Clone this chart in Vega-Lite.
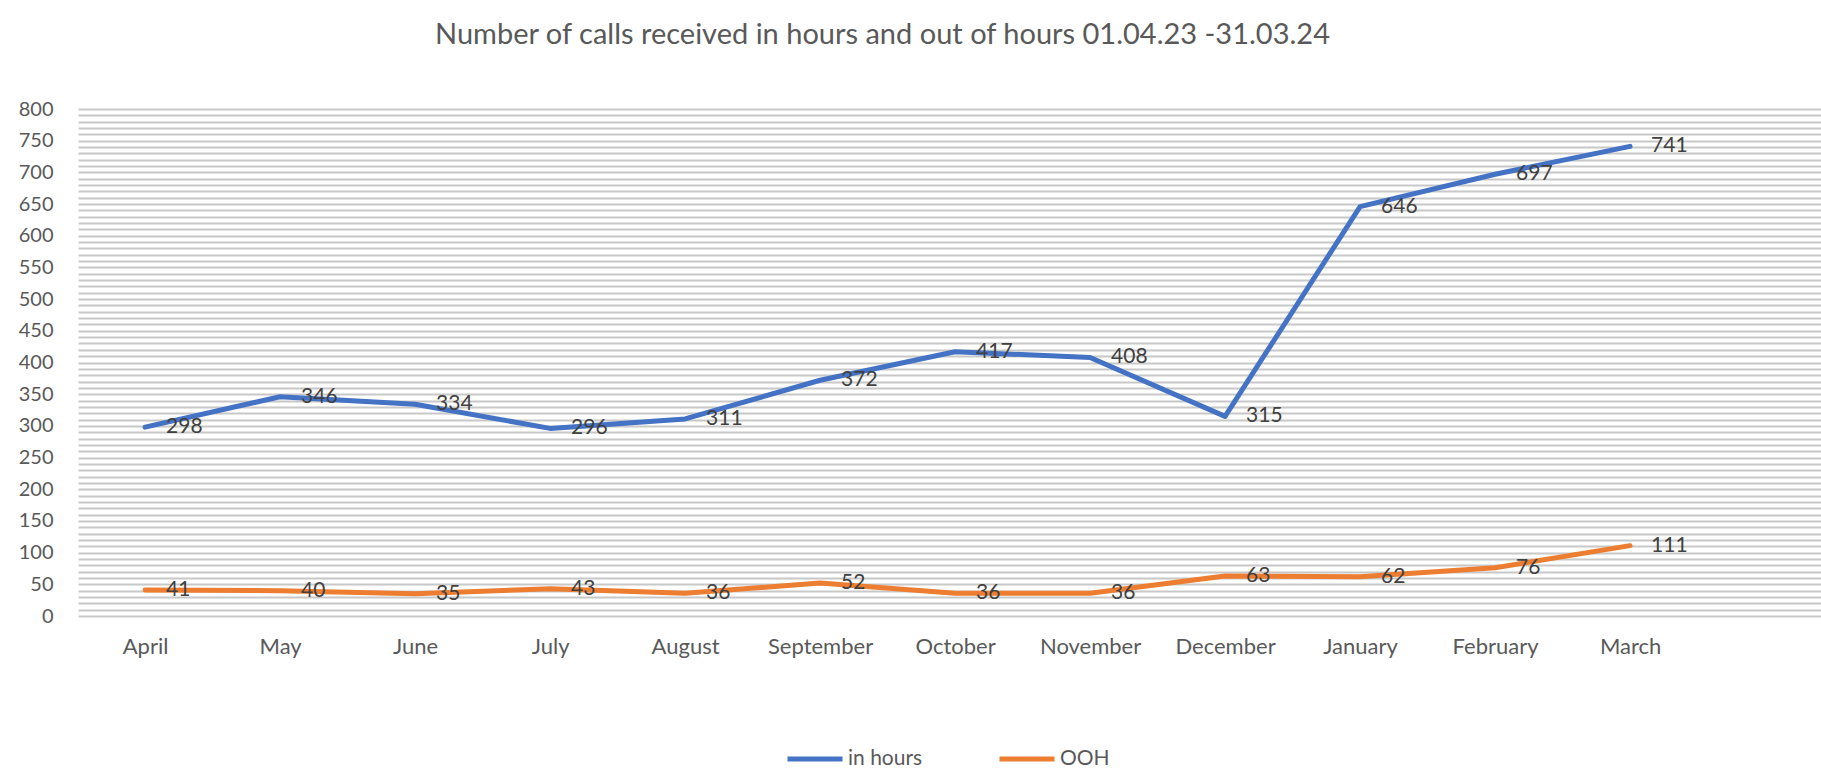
{
  "$schema": "https://vega.github.io/schema/vega-lite/v6.json",
  "autosize": {"type": "none"},
  "width": 1743,
  "height": 507,
  "padding": {"left": 78, "top": 109, "right": 0, "bottom": 152},
  "background": "white",
  "title": {
    "text": "Number of calls received in hours and out of hours 01.04.23 -31.03.24",
    "font": "Lato",
    "fontSize": 29,
    "fontWeight": "normal",
    "color": "#595959",
    "anchor": "middle",
    "dx": -67,
    "offset": 49
  },
  "config": {
    "view": {"stroke": null},
    "font": "Lato"
  },
  "data": {
    "values": [
      {"month": "April", "series": "in hours", "calls": 298},
      {"month": "May", "series": "in hours", "calls": 346},
      {"month": "June", "series": "in hours", "calls": 334},
      {"month": "July", "series": "in hours", "calls": 296},
      {"month": "August", "series": "in hours", "calls": 311},
      {"month": "September", "series": "in hours", "calls": 372},
      {"month": "October", "series": "in hours", "calls": 417},
      {"month": "November", "series": "in hours", "calls": 408},
      {"month": "December", "series": "in hours", "calls": 315},
      {"month": "January", "series": "in hours", "calls": 646},
      {"month": "February", "series": "in hours", "calls": 697},
      {"month": "March", "series": "in hours", "calls": 741},
      {"month": "April", "series": "OOH", "calls": 41},
      {"month": "May", "series": "OOH", "calls": 40},
      {"month": "June", "series": "OOH", "calls": 35},
      {"month": "July", "series": "OOH", "calls": 43},
      {"month": "August", "series": "OOH", "calls": 36},
      {"month": "September", "series": "OOH", "calls": 52},
      {"month": "October", "series": "OOH", "calls": 36},
      {"month": "November", "series": "OOH", "calls": 36},
      {"month": "December", "series": "OOH", "calls": 63},
      {"month": "January", "series": "OOH", "calls": 62},
      {"month": "February", "series": "OOH", "calls": 76},
      {"month": "March", "series": "OOH", "calls": 111}
    ]
  },
  "encoding": {
    "x": {
      "field": "month",
      "type": "nominal",
      "sort": ["April", "May", "June", "July", "August", "September", "October", "November", "December", "January", "February", "March"],
      "scale": {"type": "point", "padding": 0.9556, "align": 0.26},
      "axis": {
        "title": null,
        "labelAngle": 0,
        "labelFont": "Lato",
        "labelFontSize": 22,
        "labelColor": "#595959",
        "labelPadding": 20,
        "ticks": false,
        "domain": false,
        "grid": false
      }
    },
    "y": {
      "field": "calls",
      "type": "quantitative",
      "scale": {"domain": [0, 800], "nice": false},
      "axis": {
        "title": null,
        "values": [0,10,20,30,40,50,60,70,80,90,100,110,120,130,140,150,160,170,180,190,200,210,220,230,240,250,260,270,280,290,300,310,320,330,340,350,360,370,380,390,400,410,420,430,440,450,460,470,480,490,500,510,520,530,540,550,560,570,580,590,600,610,620,630,640,650,660,670,680,690,700,710,720,730,740,750,760,770,780,790,800],
        "labelExpr": "datum.value % 50 === 0 ? datum.label : ''",
        "labelFont": "Lato",
        "labelFontSize": 20,
        "labelColor": "#595959",
        "labelPadding": 25,
        "ticks": false,
        "domain": false,
        "grid": true,
        "gridColor": "#c8c8c8",
        "gridWidth": 2
      }
    },
    "color": {
      "field": "series",
      "type": "nominal",
      "sort": ["in hours", "OOH"],
      "scale": {"domain": ["in hours", "OOH"], "range": ["#4472C4", "#ED7D31"]},
      "legend": {
        "title": null,
        "orient": "none",
        "direction": "horizontal",
        "legendX": 707,
        "legendY": 620,
        "symbolType": "stroke",
        "symbolStrokeWidth": 5,
        "symbolSize": 3025,
        "labelFont": "Lato",
        "labelFontSize": 21,
        "labelColor": "#595959",
        "labelOffset": 3,
        "columnPadding": 66
      }
    }
  },
  "layer": [
    {
      "mark": {"type": "line", "strokeWidth": 5, "strokeCap": "round", "strokeJoin": "round"}
    },
    {
      "mark": {"type": "text", "align": "left", "baseline": "middle", "dx": 21, "fontSize": 21, "font": "Lato", "color": "#404040"},
      "encoding": {
        "text": {"field": "calls", "type": "quantitative"},
        "color": {"value": "#404040"}
      }
    }
  ]
}
